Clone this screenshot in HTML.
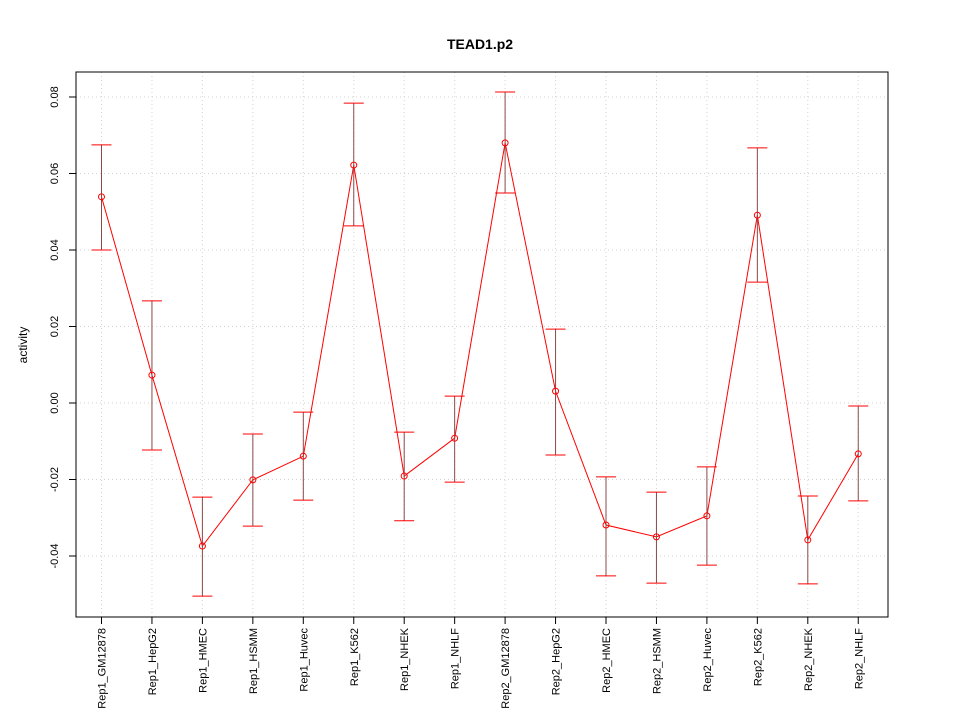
<!DOCTYPE html>
<html><head><meta charset="utf-8"><style>body{margin:0;background:#fff}svg{font-family:"Liberation Sans",sans-serif}</style></head>
<body>
<svg id="chart" width="960" height="720" xmlns="http://www.w3.org/2000/svg">
<text x="480" y="49" text-anchor="middle" font-size="14" font-weight="bold">TEAD1.p2</text>
<text transform="translate(27,345) rotate(-90)" text-anchor="middle" font-size="12">activity</text>
<g id="grid"></g><g id="axes"></g><g id="marks"></g>
<rect x="76" y="72" width="812" height="545" fill="none" stroke="#000"/>
</svg>
<script>
const categories=["Rep1_GM12878","Rep1_HepG2","Rep1_HMEC","Rep1_HSMM","Rep1_Huvec","Rep1_K562","Rep1_NHEK","Rep1_NHLF","Rep2_GM12878","Rep2_HepG2","Rep2_HMEC","Rep2_HSMM","Rep2_Huvec","Rep2_K562","Rep2_NHEK","Rep2_NHLF"];
const values=[0.0539,0.0073,-0.0374,-0.0201,-0.0139,0.0622,-0.0191,-0.0092,0.068,0.0031,-0.0319,-0.035,-0.0295,0.0491,-0.0358,-0.0133];
const upper=[0.0675,0.0267,-0.0246,-0.0081,-0.0024,0.0784,-0.0076,0.0018,0.0813,0.0193,-0.0193,-0.0233,-0.0167,0.0667,-0.0243,-0.0008];
const lower=[0.040,-0.0123,-0.0505,-0.0322,-0.0254,0.0463,-0.0308,-0.0207,0.0549,-0.0136,-0.0452,-0.0471,-0.0424,0.0316,-0.0473,-0.0256];
const yTicks=[-0.04,-0.02,0.00,0.02,0.04,0.06,0.08];
const yTickLabels=["-0.04","-0.02","0.00","0.02","0.04","0.06","0.08"];
const NS="http://www.w3.org/2000/svg";
const X=i=>101.5+i*50.45, Y=v=>403-v*3825;
function mk(tag,attrs,parent,txt){const e=document.createElementNS(NS,tag);for(const k in attrs)e.setAttribute(k,attrs[k]);if(txt!=null)e.textContent=txt;document.getElementById(parent).appendChild(e);return e;}
yTicks.forEach((t,i)=>{
 const g=mk('line',{x1:76,x2:888,y1:Y(t),y2:Y(t),stroke:'#d3d3d3','stroke-dasharray':'1,3'},'grid');
 
 
 const tk=mk('line',{x1:69,x2:76,y1:Y(t),y2:Y(t),stroke:'#000'},'axes');
 
 
 const l=mk('text',{transform:`translate(58,${Y(t)}) rotate(-90)`,'text-anchor':'middle','font-size':11},'axes',yTickLabels[i]);
 
 
});
categories.forEach((c,i)=>{
 const g=mk('line',{x1:X(i),x2:X(i),y1:72,y2:617,stroke:'#d3d3d3','stroke-dasharray':'1,3'},'grid');
 
 
 const tk=mk('line',{x1:X(i),x2:X(i),y1:617,y2:624,stroke:'#000'},'axes');
 
 
 const l=mk('text',{transform:`translate(${X(i)+4},628) rotate(-90)`,'text-anchor':'end','font-size':11},'axes',c);
 
 
});
const pts=values.map((v,i)=>X(i)+','+Y(v)).join(' ');
const pl=mk('polyline',{points:pts,fill:'none',stroke:'#ff0000'},'marks');


values.forEach((v,i)=>{
 const s=mk('line',{x1:X(i),x2:X(i),y1:Y(upper[i]),y2:Y(lower[i]),stroke:'#8a4a4a'},'marks');
 
 
 [upper[i],lower[i]].forEach(u=>{
  const cp=mk('line',{x1:X(i)-10,x2:X(i)+10,y1:Y(u),y2:Y(u),stroke:'#ff0000'},'marks');
  
  
 });
 const p=mk('circle',{cx:X(i),cy:Y(v),r:3,fill:'none',stroke:'#ff0000'},'marks');
 
 
});
</script>
</body></html>
